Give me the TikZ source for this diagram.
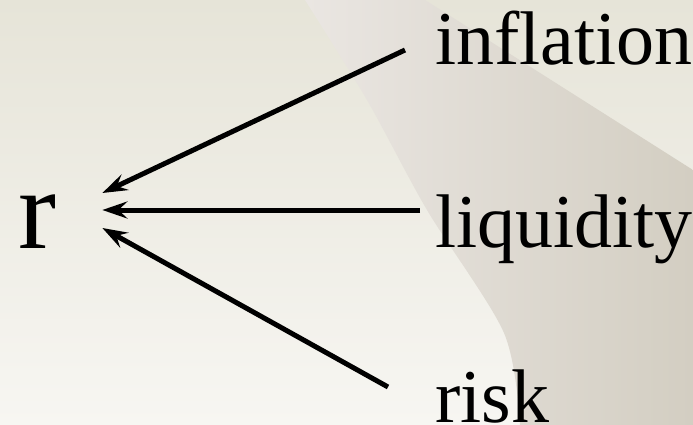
\documentclass[tikz,border=0pt]{standalone}
\usepackage{fontspec}
\setmainfont{Liberation Serif}
\newfontfamily\lblfont{Liberation Serif}
\usetikzlibrary{arrows.meta}
\definecolor{bgtop}{HTML}{E6E4D8}
\definecolor{bgbot}{HTML}{F7F6F2}
\definecolor{bandl}{HTML}{EAE6E2}
\definecolor{bandr}{HTML}{D3CEC2}
\tikzset{
  lbl/.style={anchor=base west,inner sep=0pt,font=\lblfont\fontsize{76}{80}\selectfont},
  arr/.style={line width=5pt,-{Stealth[length=25pt,width=17pt,inset=9pt]}}
}

\begin{document}
\begin{tikzpicture}[x=1pt,y=-1pt]
  \useasboundingbox (0,0) rectangle (693,425);
  % background
  \shade[top color=bgtop,bottom color=bgbot] (0,0) rectangle (693,425);
  \shade[left color=bandl,right color=bandr] plot[smooth] coordinates {(305,0) (367,100) (427,210) (504,333) (520,425)}
    -- (693,425) -- (693,170) -- (425,0) -- cycle;

  \node[font=\lblfont\fontsize{114}{120}\selectfont,anchor=base west,inner sep=0pt,text height=78pt] (r) at (18,248) {r};
  \node[lbl] (infl) at (435,65) {inflation};
  \node[lbl] (liq) at (435,247) {liquidity};
  \node[lbl] (risk) at (435,422) {risk};

  \draw[arr] ([shift={(-30,-15)}]infl.base west) -- ([shift={(46,-16)}]r.east);
  \draw[arr] ([shift={(-15,-37)}]liq.base west) -- ([shift={(46,1)}]r.east);
  \draw[arr] ([shift={(-47,-35)}]risk.base west) -- ([shift={(46,19)}]r.east);
\end{tikzpicture}
\end{document}
